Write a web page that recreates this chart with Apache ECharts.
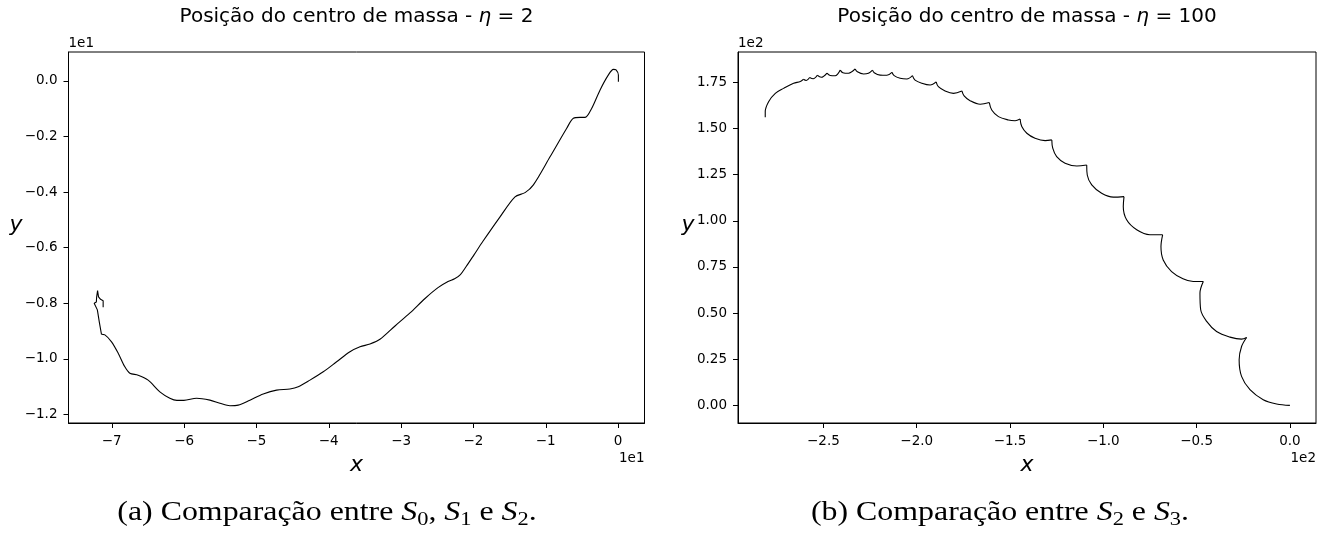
<!DOCTYPE html>
<html>
<head>
<meta charset="utf-8">
<script src="https://cdn.jsdelivr.net/npm/echarts@6/dist/echarts.min.js"></script>
<style>
html,body{margin:0;padding:0;background:#fff}
#c{width:1330px;height:542px}
</style>
</head>
<body>
<div id="c"></div>
<script>
// Centre-of-mass trajectory, eta = 2 (both axes in units of 1e1)
const eta2X = [-7.119,-7.119,-7.155,-7.183,-7.196,-7.209,-7.213,-7.243,-7.216,-7.199,
  -7.172,-7.142,-7.095,-7.003,-6.911,-6.819,-6.750,-6.635,-6.497,-6.335,
  -6.197,-6.100,-6.003,-5.827,-5.643,-5.505,-5.367,-5.252,-5.090,-4.906,
  -4.721,-4.537,-4.422,-4.260,-4.076,-3.891,-3.707,-3.568,-3.430,-3.292,
  -3.084,-2.877,-2.669,-2.490,-2.351,-2.260,-2.180,-2.100,-1.990,-1.871,-1.632,
  -1.425,-1.286,-1.171,-0.941,-0.710,-0.618,-0.526,-0.456,-0.364,-0.249,
  -0.134,-0.065,-0.028,0.004,0.004];
const eta2Y = [-0.815,-0.791,-0.786,-0.777,-0.755,-0.778,-0.796,-0.800,-0.803,-0.824,
  -0.868,-0.912,-0.914,-0.939,-0.980,-1.029,-1.052,-1.059,-1.077,-1.119,
  -1.142,-1.150,-1.150,-1.142,-1.149,-1.160,-1.169,-1.167,-1.149,-1.127,
  -1.113,-1.109,-1.101,-1.077,-1.047,-1.011,-0.975,-0.957,-0.947,-0.930,
  -0.882,-0.835,-0.783,-0.744,-0.722,-0.712,-0.697,-0.668,-0.625,-0.578,-0.489,
  -0.417,-0.402,-0.374,-0.273,-0.170,-0.134,-0.131,-0.131,-0.098,-0.032,
  0.022,0.042,0.040,0.022,-0.003];

// Centre-of-mass trajectory, eta = 100 (both axes in units of 1e2)
const eta100X = [-2.812,-2.812,-2.794,-2.758,-2.714,-2.660,-2.624,-2.608,-2.592,-2.574,-2.555,-2.533,-2.512,-2.481,-2.464,-2.437,-2.410,
  -2.396,-2.366,-2.330,-2.318,-2.285,-2.259,-2.237,-2.228,-2.196,-2.160,-2.133,-2.121,-2.089,-2.053,-2.023,
  -2.009,-1.973,-1.928,-1.896,-1.884,-1.848,-1.803,-1.758,-1.746,-1.714,-1.660,-1.611,-1.598,-1.562,-1.509,-1.473,-1.446,
  -1.437,-1.410,-1.366,-1.312,-1.276,-1.271,-1.250,-1.205,-1.142,-1.089,-1.086,-1.062,-1.009,-0.946,-0.889,
  -0.893,-0.875,-0.821,-0.750,-0.682,-0.691,-0.679,-0.634,-0.573,-0.518,-0.464,
  -0.482,-0.478,-0.446,-0.393,-0.321,-0.259,-0.232,-0.259,-0.272,-0.259,-0.214,-0.143,-0.071,0];
const eta100Y = [1.561,1.591,1.645,1.690,1.717,1.745,1.754,1.766,1.760,1.776,1.769,1.788,1.777,1.800,1.787,1.785,1.816,
  1.802,1.799,1.822,1.807,1.795,1.799,1.816,1.802,1.789,1.788,1.804,1.786,1.772,1.768,1.786,
  1.762,1.745,1.735,1.752,1.726,1.703,1.690,1.703,1.676,1.650,1.631,1.640,1.600,1.564,1.546,1.542,1.551,
  1.510,1.474,1.447,1.434,1.438,1.393,1.347,1.312,1.297,1.302,1.248,1.194,1.149,1.128,1.131,
  1.077,1.005,0.951,0.924,0.924,0.860,0.788,0.725,0.686,0.671,0.671,
  0.608,0.518,0.455,0.400,0.370,0.359,0.368,0.319,0.247,0.157,0.085,0.031,0.008,0];

// Tick positions
const eta2XTicks = [-7,-6,-5,-4,-3,-2,-1,0];
const eta2YTicks = [0,-0.2,-0.4,-0.6,-0.8,-1.0,-1.2];
const eta100XTicks = [-2.5,-2.0,-1.5,-1.0,-0.5,0];
const eta100YTicks = [0,0.25,0.5,0.75,1.0,1.25,1.5,1.75];

const SANS = 'DejaVu Sans';
const TICK_FONT = 13.5;

const fmt = d => v => (v < -1e-9 ? '\u2212' : '') + Math.abs(v).toFixed(d);

function valueAxis(gridIndex, min, max, ticks, digits) {
  return {
    type: 'value', gridIndex, min, max, scale: false,
    axisLine: { show: true, onZero: false, lineStyle: { color: '#000', width: 1 } },
    splitLine: { show: false },
    axisTick: { show: true, inside: false, length: 5, customValues: ticks,
      lineStyle: { color: '#000', width: 1 } },
    axisLabel: { show: true, margin: 11, color: '#000', fontSize: TICK_FONT, fontFamily: SANS,
      customValues: ticks, formatter: fmt(digits) }
  };
}

// split a path at cusps (local maxima of y) so each arc is smoothed separately
function splitAtCusps(xs, ys) {
  const pieces = [];
  let cur = [[xs[0], ys[0]]];
  for (let i = 1; i < xs.length; i++) {
    cur.push([xs[i], ys[i]]);
    if (i < xs.length - 1 && ys[i] >= ys[i - 1] && ys[i] > ys[i + 1]) {
      pieces.push(cur);
      cur = [[xs[i], ys[i]]];
    }
  }
  pieces.push(cur);
  return pieces;
}

const lineStyle = { color: '#000', width: 1.1 };
function pathSeries(data, axisIdx, smooth) {
  return { type: 'line', xAxisIndex: axisIdx, yAxisIndex: axisIdx, data, showSymbol: false,
    symbol: 'none', smooth, lineStyle, silent: true, animation: false, z: 3 };
}

const eta2Pts = eta2X.map((x, i) => [x, eta2Y[i]]);
const series = [
  pathSeries(eta2Pts.slice(0, 12), 0, false),
  pathSeries(eta2Pts.slice(11), 0, 0.3)
];
splitAtCusps(eta100X, eta100Y).forEach(p => series.push(pathSeries(p, 1, 0.35)));

function text(x, y, str, style, extra) {
  return Object.assign({ type: 'text', x, y, silent: true,
    style: Object.assign({ text: str, fill: '#000', align: 'center', verticalAlign: 'middle',
      textAlign: 'center', textVerticalAlign: 'middle' }, style) }, extra || {});
}

const titleRich = {
  n: { fontFamily: SANS, fontSize: 20, fill: '#000', color: '#000' },
  i: { fontFamily: SANS, fontSize: 20, fontStyle: 'italic', fill: '#000', color: '#000' }
};
const capRich = {
  n: { fontFamily: 'Liberation Serif', fontSize: 27, lineHeight: 34, verticalAlign: 'middle', fill: '#000', color: '#000' },
  i: { fontFamily: 'Liberation Serif', fontSize: 27, lineHeight: 34, verticalAlign: 'middle', fontStyle: 'italic', fill: '#000', color: '#000' },
  s: { fontFamily: 'Liberation Serif', fontSize: 19, lineHeight: 19, verticalAlign: 'bottom', fill: '#000', color: '#000' }
};
const labelStyle = { fontFamily: SANS, fontSize: 22, fontStyle: 'italic' };
const offStyle = { fontFamily: SANS, fontSize: TICK_FONT };

const G0 = { left: 68.5, top: 52, width: 576, height: 371 };
const G1 = { left: 738, top: 52, width: 578, height: 371 };

const option = {
  animation: false,
  backgroundColor: '#fff',
  grid: [
    Object.assign({ show: true, borderColor: '#000', borderWidth: 1, backgroundColor: 'transparent', containLabel: false }, G0),
    Object.assign({ show: true, borderColor: '#000', borderWidth: 1, backgroundColor: 'transparent', containLabel: false }, G1)
  ],
  xAxis: [
    valueAxis(0, -7.598, 0.365, eta2XTicks, 0),
    valueAxis(1, -2.958, 0.140, eta100XTicks, 1)
  ],
  yAxis: [
    valueAxis(0, -1.2313, 0.1044, eta2YTicks, 1),
    valueAxis(1, -0.0952, 1.914, eta100YTicks, 2)
  ],
  series,
  graphic: [
    text(G0.left + G0.width / 2, 17, '{n|Posição do centro de massa - }{i|η}{n| = 2}', { rich: titleRich }),
    text(G1.left + G1.width / 2, 17, '{n|Posição do centro de massa - }{i|η}{n| = 100}', { rich: titleRich }),
    text(G0.left + G0.width / 2, 465, 'x', labelStyle),
    text(16, 225, 'y', labelStyle),
    text(G1.left + G1.width / 2, 465, 'x', labelStyle),
    text(688, 225, 'y', labelStyle),
    text(G0.left, 43, '1e1', Object.assign({}, offStyle, { align: 'left', textAlign: 'left' })),
    text(G0.left + G0.width, 458, '1e1', Object.assign({}, offStyle, { align: 'right', textAlign: 'right' })),
    text(G1.left, 43, '1e2', Object.assign({}, offStyle, { align: 'left', textAlign: 'left' })),
    text(G1.left + G1.width, 458, '1e2', Object.assign({}, offStyle, { align: 'right', textAlign: 'right' })),
    text(327, 513, '{n|(a) Comparação entre }{i|S}{s|0}{n|, }{i|S}{s|1}{n| e }{i|S}{s|2}{n|.}', { rich: capRich }, { scaleX: 1.18 }),
    text(1000, 513, '{n|(b) Comparação entre }{i|S}{s|2}{n| e }{i|S}{s|3}{n|.}', { rich: capRich }, { scaleX: 1.18 })
  ]
};

const chart = echarts.init(document.getElementById('c'), null, { renderer: 'canvas' });
chart.setOption(option);
</script>
</body>
</html>
